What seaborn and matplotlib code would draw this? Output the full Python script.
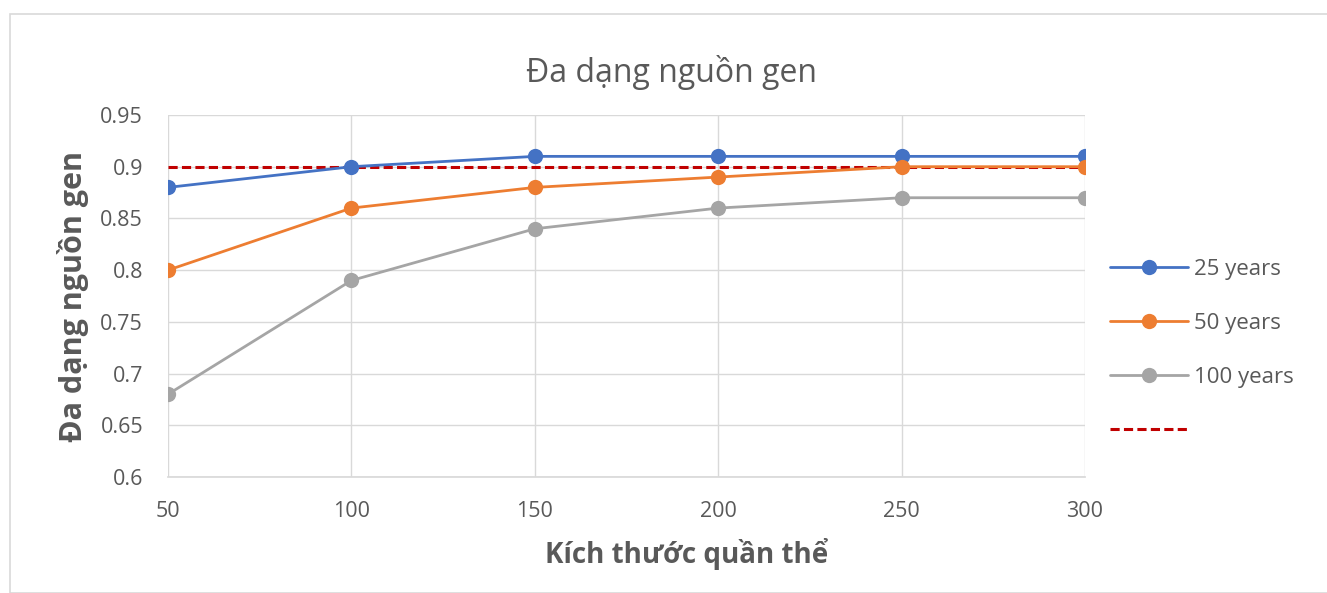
import pandas as pd
import matplotlib
matplotlib.use("Agg")
import matplotlib.pyplot as plt
import seaborn as sns
from matplotlib.patches import Rectangle

# -------------------------------------------------
# DATA
# -------------------------------------------------
pop_size = [50, 100, 150, 200, 250, 300]
div_25 = [0.88, 0.90, 0.91, 0.91, 0.91, 0.91]
div_50 = [0.80, 0.86, 0.88, 0.89, 0.90, 0.90]
div_100 = [0.68, 0.79, 0.84, 0.86, 0.87, 0.87]
threshold = [0.90, 0.90, 0.90, 0.90, 0.90, 0.90]
series_names = ["25 years", "50 years", "100 years"]
colors = ["#4472C4", "#ED7D31", "#A5A5A5"]

df = pd.DataFrame({
    "size": pop_size * 3,
    "div": div_25 + div_50 + div_100,
    "series": sum([[n] * len(pop_size) for n in series_names], []),
})
df_thr = pd.DataFrame({"size": pop_size, "div": threshold})

sns.set_theme(style="white")
plt.rcParams["font.family"] = ["Open Sans", "DejaVu Sans"]
txt = "#595959"

fig = plt.figure(figsize=(13.27, 5.93), dpi=100)
fig.patches.append(Rectangle((10 / 1327, 0), 1.0, 1 - 14 / 593, transform=fig.transFigure,
                             fill=False, edgecolor="#D9D9D9", linewidth=1.2))
ax = fig.add_axes([168 / 1327, (593 - 477) / 593, (1085 - 168) / 1327, (477 - 115) / 593])

# threshold line
sns.lineplot(data=df_thr, x="size", y="div", ax=ax, color="#C00000",
             linestyle=(0, (3, 1.4)), linewidth=2.2, zorder=3)
# diversity series
sns.lineplot(data=df, x="size", y="div", hue="series", palette=colors, ax=ax,
             marker="o", markersize=11, markeredgewidth=0, linewidth=2, zorder=4)

ax.set_xlim(50, 300)
ax.set_ylim(0.6, 0.95)
ax.set_xticks(pop_size)
ax.set_xticklabels([str(v) for v in pop_size])
ax.set_yticks([0.6, 0.65, 0.7, 0.75, 0.8, 0.85, 0.9, 0.95])
ax.set_yticklabels(["0.6", "0.65", "0.7", "0.75", "0.8", "0.85", "0.9", "0.95"])
ax.grid(True, color="#D9D9D9", linewidth=1)
for s in ["top", "right", "left"]:
    ax.spines[s].set_visible(False)
ax.spines["bottom"].set_color("#D9D9D9")
ax.tick_params(axis="both", colors=txt, labelsize=15.5, length=0)
ax.tick_params(axis="x", pad=17)
ax.tick_params(axis="y", pad=18)

# title and x label are centred on the whole chart area, not on the plot area
fig.text(672 / 1327, 1 - 72 / 593, "Đa dạng nguồn gen", fontsize=23, color=txt,
         ha="center", va="center")
ax.set_xlabel("Kích thước quần thể", fontsize=20, fontweight="bold", color=txt,
              labelpad=12, x=(687 - 168) / 917)
ax.set_ylabel("Đa dạng nguồn gen", fontsize=22, fontweight="bold", color=txt, labelpad=8)

handles, labels = ax.get_legend_handles_labels()
ln = ax.get_lines()[0]
handles = handles[-3:] + [ln]
labels = labels[-3:] + [""]
ax.legend(handles, labels, loc="center left", bbox_to_anchor=(1.018, 0.35), frameon=False,
          fontsize=16, labelcolor=txt, handlelength=3.5, handletextpad=0.25,
          labelspacing=1.48, borderaxespad=0)

fig.savefig("out.png", dpi=100)
plt.close()
